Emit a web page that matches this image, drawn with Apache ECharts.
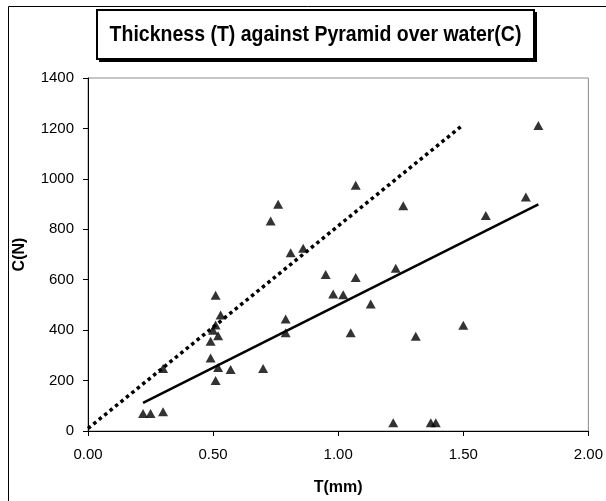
<!DOCTYPE html>
<html>
<head>
<meta charset="utf-8">
<script src="https://cdn.jsdelivr.net/npm/echarts@6/dist/echarts.min.js"></script>
<style>
html,body{margin:0;padding:0;background:#fff;}
#chart{width:606px;height:501px;}
</style>
</head>
<body>
<div id="chart"></div>
<script>
// Thickness T (mm)
const tValues = [0.22, 0.25, 0.30, 0.30, 0.49, 0.49, 0.50, 0.51, 0.51, 0.52, 0.53, 0.51, 0.52, 0.57, 0.70,
                 0.73, 0.76, 0.79, 0.79, 0.81, 0.86, 0.95, 0.98, 1.02, 1.05, 1.07, 1.07, 1.13, 1.22, 1.23,
                 1.26, 1.31, 1.37, 1.39, 1.50, 1.59, 1.75, 1.80];
// Pyramid over water C (N)
const cValues = [69, 69, 76, 248, 290, 356, 400, 420, 538, 378, 460, 200, 252, 244, 248,
                 833, 899, 444, 390, 707, 725, 621, 543, 540, 390, 975, 609, 504, 33, 645,
                 893, 376, 33, 33, 419, 855, 928, 1212];
// Solid fitted line end points
const fitX = [0.22, 1.80];
const fitY = [112, 899];
// Dotted line end points
const upperX = [0.00, 1.50];
const upperY = [10, 1215];
// Axis ticks
const xTicks = [0, 0.5, 1.0, 1.5, 2.0];
const yTicks = [0, 200, 400, 600, 800, 1000, 1200, 1400];

const titleText = 'Thickness (T) against Pyramid over water(C)';
const xName = 'T(mm)';
const yName = 'C(N)';

const FONT = '"Liberation Sans", Arial, sans-serif';
const chart = echarts.init(document.getElementById('chart'), null, {renderer: 'canvas'});

const points = tValues.map((t, i) => [t, cValues[i]]);
const fitLine = fitX.map((x, i) => [x, fitY[i]]);
const upperLine = upperX.map((x, i) => [x, upperY[i]]);

chart.setOption({
  animation: false,
  backgroundColor: '#fff',
  grid: {
    left: 88, right: 17, top: 78, bottom: 70,
    show: true, borderColor: '#8c8c8c', borderWidth: 1, backgroundColor: 'transparent'
  },
  xAxis: {
    type: 'value',
    min: xTicks[0], max: xTicks[xTicks.length - 1], interval: 0.5,
    name: xName, nameLocation: 'middle', nameGap: 49,
    nameTextStyle: {fontFamily: FONT, fontWeight: 'bold', fontSize: 16, color: '#000'},
    axisLine: {show: true, lineStyle: {color: '#000', width: 1}},
    axisTick: {show: true, inside: false, length: 5, lineStyle: {color: '#000'}},
    axisLabel: {fontFamily: FONT, fontSize: 15, color: '#000', margin: 16,
                formatter: v => v.toFixed(2)},
    splitLine: {show: false}
  },
  yAxis: {
    type: 'value',
    min: yTicks[0], max: yTicks[yTicks.length - 1], interval: 200,
    name: yName, nameLocation: 'middle', nameGap: 60, nameRotate: 90,
    nameTextStyle: {fontFamily: FONT, fontWeight: 'bold', fontSize: 16, color: '#000'},
    axisLine: {show: true, lineStyle: {color: '#000', width: 1}},
    axisTick: {show: true, inside: false, length: 5, lineStyle: {color: '#000'}},
    axisLabel: {fontFamily: FONT, fontSize: 15, color: '#000', margin: 14,
                formatter: v => String(v)},
    splitLine: {show: false}
  },
  graphic: [
    {type: 'rect', silent: true, z: -10,
     shape: {x: 8.5, y: 6.5, width: 700, height: 600},
     style: {fill: 'none', stroke: '#000', lineWidth: 1}},
    {type: 'rect', silent: true, z: 10,
     shape: {x: 99, y: 12, width: 438, height: 50},
     style: {fill: '#000'}},
    {type: 'rect', silent: true, z: 11,
     shape: {x: 97, y: 10, width: 437, height: 49},
     style: {fill: '#fff', stroke: '#000', lineWidth: 2}},
    {type: 'text', silent: true, z: 12,
     x: 315.5, y: 35, scaleY: 1.15,
     style: {text: titleText, fontFamily: FONT, fontWeight: 'bold', fontSize: 19.5,
             fill: '#000', textAlign: 'center', textVerticalAlign: 'middle'}}
  ],
  series: [
    {
      type: 'line', data: upperLine, symbol: 'none', silent: true,
      lineStyle: {color: '#000', width: 3.5, type: [3.5, 3.5], cap: 'butt'},
      z: 2
    },
    {
      type: 'line', data: fitLine, symbol: 'none', silent: true,
      lineStyle: {color: '#000', width: 2.5, type: 'solid'},
      z: 2
    },
    {
      type: 'scatter', data: points, symbol: 'triangle', symbolSize: [10, 9],
      itemStyle: {color: '#000'}, silent: true, z: 3
    }
  ]
});
</script>
</body>
</html>
